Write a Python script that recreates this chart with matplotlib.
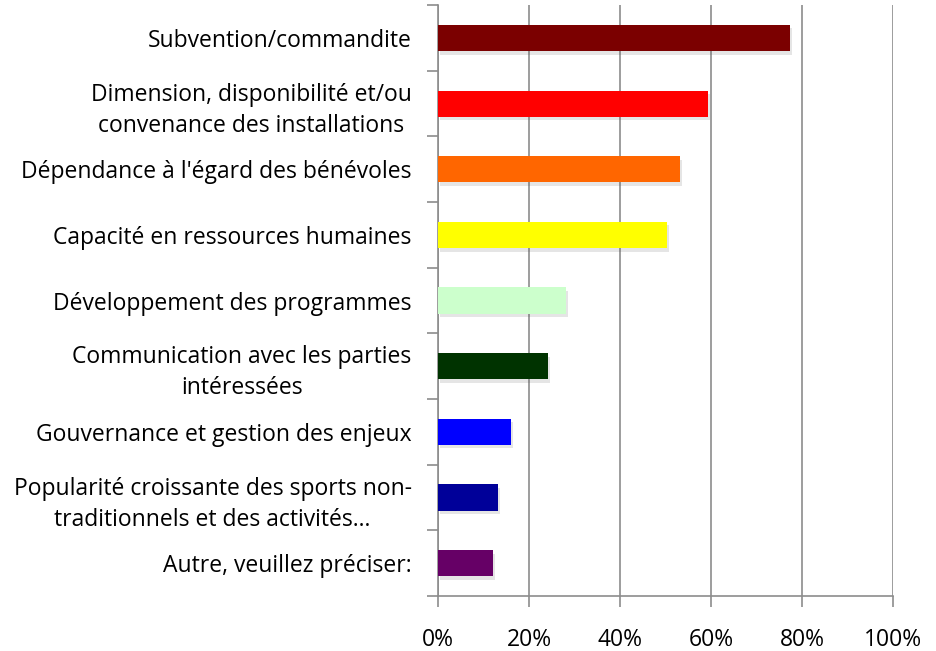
import numpy as np
import matplotlib.pyplot as plt
import matplotlib.patheffects as pe
from matplotlib.ticker import FixedLocator, PercentFormatter

# categories (top to bottom) and share of respondents
categories = [
    "Subvention/commandite",
    "Dimension, disponibilité et/ou\nconvenance des installations",
    "Dépendance à l'égard des bénévoles",
    "Capacité en ressources humaines",
    "Développement des programmes",
    "Communication avec les parties\nintéressées",
    "Gouvernance et gestion des enjeux",
    "Popularité croissante des sports non-\ntraditionnels et des activités…",
    "Autre, veuillez préciser:",
]
values = [77.3, 59.3, 53.2, 50.3, 28.2, 24.2, 16.0, 13.2, 12.1]
colors = ["#7B0000", "#FF0000", "#FF6600", "#FFFF00", "#CCFFCC",
          "#003300", "#0000FF", "#000099", "#660066"]

plt.rcParams['font.family'] = ['Open Sans', 'DejaVu Sans']

fig = plt.figure(figsize=(9.36, 6.51), dpi=100)
ax = fig.add_axes([0.468, 0.0845, 0.486, 0.9075])

n = len(categories)
y = np.arange(n)[::-1]
bars = ax.barh(y, values, height=0.4, color=colors, zorder=3)
for b in bars:
    b.set_path_effects([pe.SimplePatchShadow(offset=(1.5, -2.5), alpha=0.15, shadow_rgbFace="#555555"), pe.Normal()])

ax.set_xlim(0, 100)
ax.set_ylim(-0.5, n - 0.5)
ax.set_xticks(np.arange(0, 101, 20))
ax.xaxis.set_major_formatter(PercentFormatter(decimals=0))
ax.grid(axis='x', color='#8c8c8c', linewidth=1.2, zorder=0)

ax.set_yticks(y)
ax.set_yticklabels(categories, ha='right', multialignment='center', linespacing=1.4)
ax.yaxis.set_minor_locator(FixedLocator(np.arange(-0.5, n, 1)))
ax.tick_params(axis='y', which='major', length=0, pad=19, labelsize=16.5)
ax.tick_params(axis='y', which='minor', length=8, width=1.2, color='#8c8c8c')
ax.tick_params(axis='x', length=8, width=1.2, color='#8c8c8c', pad=15, labelsize=16.5)

for s in ['top', 'right']:
    ax.spines[s].set_visible(False)
for s in ['left', 'bottom']:
    ax.spines[s].set_color('#8c8c8c')
    ax.spines[s].set_linewidth(1.2)

plt.savefig("out.png")
